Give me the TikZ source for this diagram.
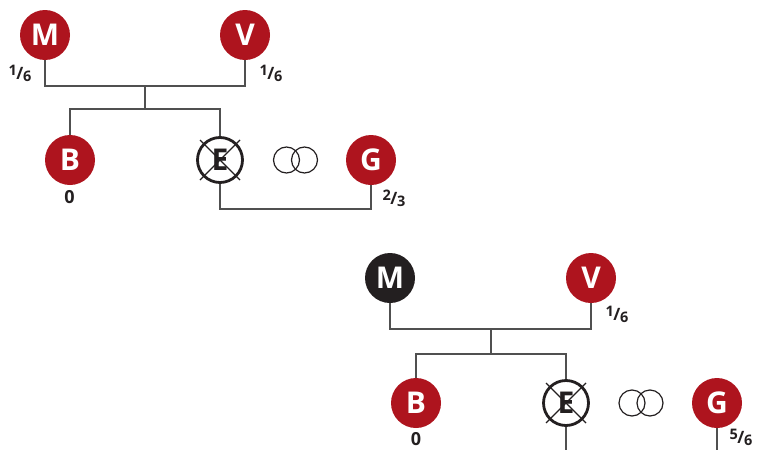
\documentclass[tikz,border=0pt]{standalone}
\usepackage{fontspec}
\setmainfont{Open Sans}
\usepackage{tikz}
\usetikzlibrary{positioning}
\definecolor{kinred}{RGB}{174,20,30}
\definecolor{kinblack}{RGB}{35,31,32}
\definecolor{kinline}{RGB}{80,80,80}
\newcommand{\kfrac}[2]{\raisebox{4pt}{#1}\kern-0.3pt{\fontsize{17}{17}\selectfont/}\kern-0.3pt\raisebox{-2pt}{#2}}

\begin{document}
\begin{tikzpicture}[x=1pt, y=-1pt,
  person/.style={circle, fill=kinred, text=white, minimum size=50pt, inner sep=0pt,
                 font=\fontsize{30}{30}\bfseries\selectfont},
  dead/.style={person, fill=kinblack},
  gone/.style={circle, draw=kinblack, line width=2.8pt, fill=white, text=kinblack,
               minimum size=45pt, inner sep=0pt, font=\fontsize{30}{30}\bfseries\selectfont},
  cross/.style={draw=kinblack, line width=1.3pt},
  ring/.style={circle, draw=kinblack, line width=1.2pt, minimum size=26pt, inner sep=0pt},
  share/.style={font=\fontsize{14.5}{14.5}\bfseries\selectfont, text=kinblack, inner sep=0pt},
  zero/.style={font=\fontsize{18}{18}\bfseries\selectfont, text=kinblack, inner sep=0pt},
  link/.style={draw=kinline, line width=1.1pt}]
  \useasboundingbox (0,0) rectangle (760,450);
  % first family
  \node[person] (M) at (45,35) {M};
  \node[person] (V) at (245,35) {V};
  \node[person] (B) at (70,160) {B};
  \node[gone] (E) at (220,160) {E};
  \node[ring] (R1) at (286.5,160) {};
  \node[ring] (R2) at (304.5,160) {};
  \node[person] (G) at (371,160) {G};
  \draw[cross] ([shift={(-20,-20)}]E.center) -- ([shift={(20,20)}]E.center);
  \draw[cross] ([shift={(-20,20)}]E.center) -- ([shift={(20,-20)}]E.center);
  \node[share] at (20,73) {\kfrac{1}{6}};
  \node[share] at (271,73) {\kfrac{1}{6}};
  \node[zero] at (69.5,197) {0};
  \node[share] at (394,198) {\kfrac{2}{3}};
  \coordinate (MV) at (145,86);
  \coordinate (KI) at (145,109);
  \coordinate (EG) at (295,209);
  \draw[link] (M) |- (MV) -| (V);
  \draw[link] (MV) -- (KI);
  \draw[link] (B) |- (KI) -| (E);
  \draw[link] (E) |- (EG) -| (G);
  % second family
  \node[dead] (M2) at (390,278) {M};
  \node[person] (V2) at (591,278) {V};
  \node[person] (B2) at (416,403) {B};
  \node[gone] (E2) at (566,403) {E};
  \node[ring] (R3) at (632,403) {};
  \node[ring] (R4) at (650,403) {};
  \node[person] (G2) at (717,403) {G};
  \draw[cross] ([shift={(-20,-20)}]E2.center) -- ([shift={(20,20)}]E2.center);
  \draw[cross] ([shift={(-20,20)}]E2.center) -- ([shift={(20,-20)}]E2.center);
  \node[share] at (617,314) {\kfrac{1}{6}};
  \node[zero] at (416,439) {0};
  \node[share] at (741,437) {\kfrac{5}{6}};
  \coordinate (MV2) at (491,329);
  \coordinate (KI2) at (491,354);
  \coordinate (E2end) at (566,450);
  \coordinate (G2end) at (717,450);
  \draw[link] (M2) |- (MV2) -| (V2);
  \draw[link] (MV2) -- (KI2);
  \draw[link] (B2) |- (KI2) -| (E2);
  \draw[link] (E2) -- (E2end);
  \draw[link] (G2) -- (G2end);
\end{tikzpicture}
\end{document}
